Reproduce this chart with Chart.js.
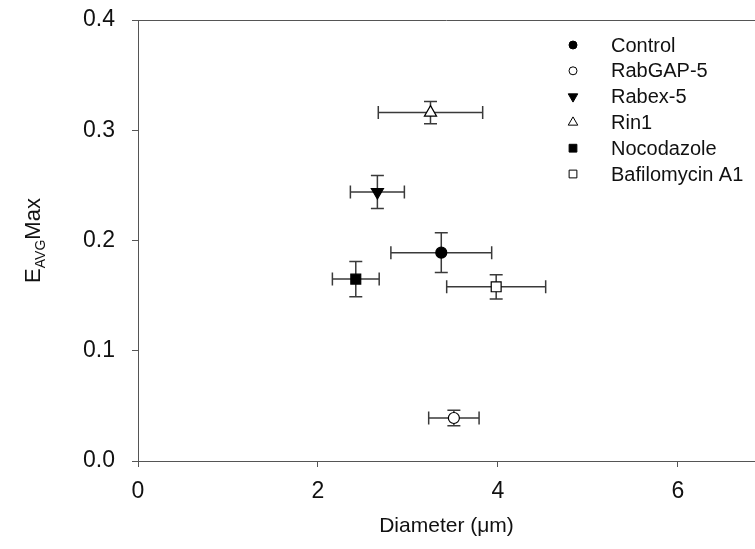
<!DOCTYPE html>
<html>
<head>
<meta charset="utf-8">
<script src="https://cdn.jsdelivr.net/npm/chart.js@4.4.1/dist/chart.umd.min.js"></script>
<style>
  html, body { margin: 0; padding: 0; background: #fff; overflow: hidden; }
  #wrap { width: 755px; height: 549px; }
</style>
</head>
<body>
<div id="wrap"><canvas id="chart" width="755" height="549"></canvas></div>
<script>
// data
var groups = ['Control', 'RabGAP-5', 'Rabex-5', 'Rin1', 'Nocodazole', 'Bafilomycin A1'];
var diameter = [3.37, 3.51, 2.66, 3.25, 2.42, 3.98];
var diameterErr = [0.56, 0.28, 0.30, 0.58, 0.26, 0.55];
var eavgMax = [0.189, 0.039, 0.244, 0.316, 0.165, 0.158];
var eavgErr = [0.018, 0.007, 0.015, 0.010, 0.016, 0.011];
var xTicks = [0, 2, 4, 6];
var yTicks = [0, 0.1, 0.2, 0.3, 0.4];

var FONT = "'Liberation Sans', Arial, sans-serif";
var AXIS = '#555';
var INK = '#111';

// marker look per group
var shapes = ['circle', 'circle', 'triangle', 'triangle', 'rect', 'rect'];
var fills = ['#000', '#fff', '#000', '#fff', '#000', '#fff'];
var rotations = [0, 0, 180, 0, 0, 0];
var radii = [5.5, 5.5, 7, 7, 7, 7];

var datasets = groups.map(function (g, i) {
  return {
    label: g,
    data: [{ x: diameter[i], y: eavgMax[i] }],
    pointStyle: shapes[i],
    pointRotation: rotations[i],
    pointRadius: radii[i],
    backgroundColor: fills[i],
    borderColor: '#000',
    borderWidth: 1.2
  };
});

// x and y error bars, under the markers
var errorBars = {
  id: 'errorBars',
  beforeDatasetsDraw: function (chart) {
    var ctx = chart.ctx, xs = chart.scales.x, ys = chart.scales.y;
    var cap = 6.5;
    ctx.save();
    ctx.strokeStyle = '#3a3a3a';
    ctx.lineWidth = 1.5;
    for (var i = 0; i < groups.length; i++) {
      var cx = xs.getPixelForValue(diameter[i]);
      var cy = ys.getPixelForValue(eavgMax[i]);
      var x1 = xs.getPixelForValue(diameter[i] - diameterErr[i]);
      var x2 = xs.getPixelForValue(diameter[i] + diameterErr[i]);
      var y1 = ys.getPixelForValue(eavgMax[i] + eavgErr[i]);
      var y2 = ys.getPixelForValue(eavgMax[i] - eavgErr[i]);
      ctx.beginPath();
      ctx.moveTo(x1, cy); ctx.lineTo(x2, cy);
      ctx.moveTo(x1, cy - cap); ctx.lineTo(x1, cy + cap);
      ctx.moveTo(x2, cy - cap); ctx.lineTo(x2, cy + cap);
      ctx.moveTo(cx, y1); ctx.lineTo(cx, y2);
      ctx.moveTo(cx - cap, y1); ctx.lineTo(cx + cap, y1);
      ctx.moveTo(cx - cap, y2); ctx.lineTo(cx + cap, y2);
      ctx.stroke();
    }
    ctx.restore();
  },
  afterDraw: function (chart) {
    var ctx = chart.ctx, area = chart.chartArea;
    ctx.save();
    // top frame line
    ctx.strokeStyle = AXIS;
    ctx.lineWidth = 1;
    ctx.beginPath();
    ctx.moveTo(area.left, area.top + 0.5);
    ctx.lineTo(area.right, area.top + 0.5);
    ctx.stroke();

    // y title with subscript
    ctx.fillStyle = INK;
    ctx.translate(32, (area.top + area.bottom) / 2);
    ctx.rotate(-Math.PI / 2);
    var big = '22px ' + FONT, small = '14px ' + FONT;
    ctx.font = big; var wE = ctx.measureText('E').width, wM = ctx.measureText('Max').width;
    ctx.font = small; var wS = ctx.measureText('AVG').width;
    var x0 = -(wE + wS + wM) / 2;
    ctx.textBaseline = 'alphabetic';
    ctx.font = big; ctx.fillText('E', x0, 8);
    ctx.font = small; ctx.fillText('AVG', x0 + wE, 13);
    ctx.font = big; ctx.fillText('Max', x0 + wE + wS, 8);
    ctx.restore();

    // legend
    ctx.save();
    var lx = 573, tx = 611, ly0 = 45, step = 25.8;
    ctx.font = '20px ' + FONT;
    ctx.textBaseline = 'middle';
    for (var i = 0; i < groups.length; i++) {
      var y = ly0 + i * step;
      ctx.fillStyle = fills[i];
      ctx.strokeStyle = '#000';
      ctx.lineWidth = 1;
      Chart.helpers.drawPoint(ctx, {
        pointStyle: shapes[i],
        rotation: rotations[i],
        radius: shapes[i] === 'circle' ? 4 : 5.5,
        borderWidth: 1
      }, lx, y);
      ctx.fillStyle = INK;
      ctx.fillText(groups[i], tx, y + 1);
    }
    ctx.restore();
  }
};

new Chart(document.getElementById('chart'), {
  type: 'scatter',
  data: { datasets: datasets },
  options: {
    responsive: false,
    animation: false,
    layout: { autoPadding: false, padding: { top: 20, right: 0, left: 0, bottom: 0 } },
    plugins: { legend: { display: false }, tooltip: { enabled: false } },
    scales: {
      x: {
        type: 'linear',
        min: 0,
        max: 6.856,
        afterBuildTicks: function (s) { s.ticks = xTicks.map(function (v) { return { value: v }; }); },
        afterFit: function (s) { s.height = 88; s.paddingLeft = 0; s.paddingRight = 0; },
        grid: { drawOnChartArea: false, drawTicks: true, tickLength: 6, tickColor: AXIS },
        border: { display: true, color: AXIS, width: 1 },
        ticks: { font: { family: FONT, size: 23 }, color: INK, padding: 11, maxRotation: 0 },
        title: {
          display: true, text: 'Diameter (\u03bcm)',
          font: { family: FONT, size: 21 }, color: INK,
          padding: { top: 0, bottom: 10 }
        }
      },
      y: {
        type: 'linear',
        min: 0,
        max: 0.4,
        afterBuildTicks: function (s) { s.ticks = yTicks.map(function (v) { return { value: v }; }); },
        afterFit: function (s) { s.width = 138; s.paddingTop = 0; s.paddingBottom = 0; },
        grid: { drawOnChartArea: false, drawTicks: true, tickLength: 6, tickColor: AXIS },
        border: { display: true, color: AXIS, width: 1 },
        ticks: {
          font: { family: FONT, size: 23 }, color: INK, padding: 17,
          callback: function (v) { return v.toFixed(1); }
        }
      }
    }
  },
  plugins: [errorBars]
});
</script>
</body>
</html>
